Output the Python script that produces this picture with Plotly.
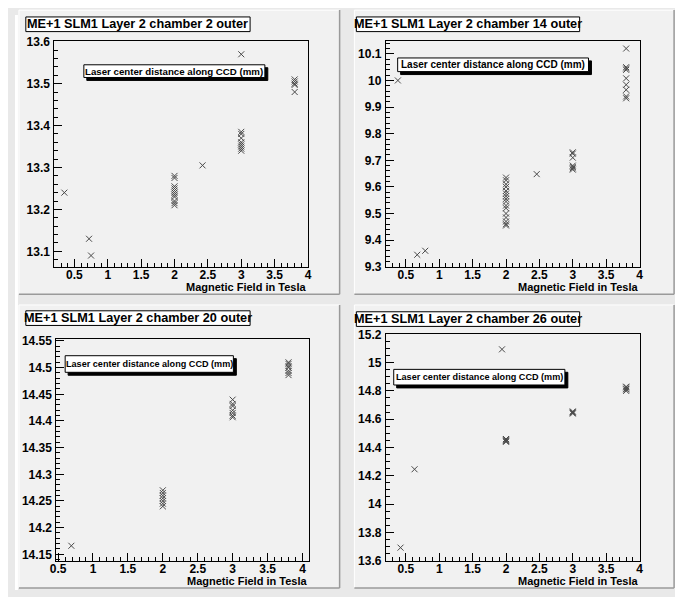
import plotly.graph_objects as go

# ---------------- data ----------------
p1_title = "ME+1 SLM1 Layer 2 chamber 2 outer"
p1_x = [0.35, 0.72, 0.75,
        2, 2, 2, 2, 2, 2, 2, 2, 2, 2, 2,
        2.42,
        3, 3, 3, 3, 3, 3, 3, 3, 3.0,
        3.8, 3.8, 3.8, 3.8, 3.8]
p1_y = [13.24, 13.13, 13.09,
        13.28, 13.275, 13.255, 13.25, 13.245, 13.24, 13.235, 13.23, 13.22, 13.215, 13.21,
        13.305,
        13.385, 13.38, 13.37, 13.36, 13.355, 13.35, 13.345, 13.34, 13.57,
        13.51, 13.505, 13.5, 13.497, 13.48]

p2_title = "ME+1 SLM1 Layer 2 chamber 14 outer"
p2_x = [0.38, 0.67, 0.79,
        2, 2, 2, 2, 2, 2, 2, 2, 2, 2, 2, 2, 2, 2, 2, 2,
        2.46,
        3, 3, 3, 3, 3, 3, 3,
        3.8, 3.8, 3.8, 3.8, 3.8, 3.8, 3.8, 3.8, 3.8]
p2_y = [10.0, 9.345, 9.36,
        9.635, 9.625, 9.61, 9.6, 9.585, 9.575, 9.565, 9.555, 9.545, 9.53, 9.52, 9.5, 9.485, 9.47, 9.46, 9.455,
        9.648,
        9.73, 9.725, 9.71, 9.68, 9.675, 9.67, 9.665,
        10.12, 10.05, 10.045, 10.04, 10.008, 9.984, 9.965, 9.94, 9.933]

p3_title = "ME+1 SLM1 Layer 2 chamber 20 outer"
p3_x = [0.69,
        2, 2, 2, 2, 2, 2, 2,
        3, 3, 3, 3, 3, 3, 3,
        3.8, 3.8, 3.8, 3.8, 3.8, 3.8, 3.8]
p3_y = [14.166,
        14.27, 14.265, 14.26, 14.255, 14.25, 14.245, 14.24,
        14.44, 14.432, 14.428, 14.42, 14.415, 14.41, 14.407,
        14.51, 14.507, 14.503, 14.5, 14.494, 14.49, 14.486]

p4_title = "ME+1 SLM1 Layer 2 chamber 26 outer"
p4_x = [0.42, 0.63, 1.94,
        2, 2, 2, 2, 2,
        3, 3, 3, 3,
        3.8, 3.8, 3.8, 3.8, 3.8]
p4_y = [13.692, 14.246, 15.094,
        14.46, 14.455, 14.45, 14.445, 14.44,
        14.655, 14.65, 14.645, 14.64,
        14.83, 14.825, 14.815, 14.81, 14.8]

legend_text = "Laser center distance along CCD (mm)"
x_title = "Magnetic Field in Tesla"

# ---------------- layout helpers ----------------
# the page body keeps its default 8px margin, so the figure starts at (8, 8)
OFF = 8
W, H = 683 - OFF, 597 - OFF
FONT = "Liberation Sans"


def px(x):
    return (x - OFF) / W


def py(y):
    return 1 - (y - OFF) / H


def bold(s):
    return "<b>" + s + "</b>"


panels = [
    dict(x=p1_x, y=p1_y, title=p1_title,
         frame=(48, 306, 35, 266), xr=[0.2, 4.002], yr=[13.063, 13.6008],
         ydt=0.1, ymin=0.02,
         pad=(12, 338, 3, 294), tbox=(19, 247, 10, 25),
         lbox=(78, 262, 59, 72), lsize=9.7),
    dict(x=p2_x, y=p2_y, title=p2_title,
         frame=(385, 643, 35, 266), xr=[0.2, 4.002], yr=[9.2995, 10.147],
         ydt=0.1, ymin=0.02,
         pad=(353, 678, 3, 294), tbox=(355, 582, 10, 25),
         lbox=(397, 591, 52, 66), lsize=10),
    dict(x=p3_x, y=p3_y, title=p3_title,
         frame=(50, 307, 340, 567), xr=[0.475, 4.095], yr=[14.138, 14.5535],
         ydt=0.05, ymin=0.01,
         pad=(12, 338, 305, 595), tbox=(19, 247, 311, 326),
         lbox=(59, 230, 357, 374), lsize=9.1),
    dict(x=p4_x, y=p4_y, title=p4_title,
         frame=(385, 643, 335, 567), xr=[0.2, 4.002], yr=[13.5995, 15.2008],
         ydt=0.2, ymin=0.05,
         pad=(353, 678, 305, 595), tbox=(355, 582, 312, 327),
         lbox=(393, 567, 371, 387), lsize=9.1),
]

fig = go.Figure()
shapes = []
annotations = []

# white strip at the left edge of the canvas
shapes.append(dict(type="rect", xref="paper", yref="paper", layer="below",
                   x0=0, x1=px(11), y0=0, y1=1, fillcolor="white", line=dict(width=0)))

layout_axes = {}
for i, p in enumerate(panels, start=1):
    xa = "x" if i == 1 else f"x{i}"
    ya = "y" if i == 1 else f"y{i}"
    fig.add_trace(go.Scatter(
        x=p["x"], y=p["y"], mode="markers", xaxis=xa, yaxis=ya,
        marker=dict(symbol="x-thin", size=6, color="#4a4a4a",
                    line=dict(width=1, color="#4a4a4a")),
        showlegend=False, hoverinfo="x+y"))

    fx0, fx1, fy0, fy1 = p["frame"]
    common = dict(showline=True, mirror=True, linecolor="black", linewidth=1,
                  ticks="inside", ticklen=8, tickcolor="black", tickwidth=1,
                  showgrid=False, zeroline=False,
                  tickprefix="<b>", ticksuffix="</b>",
                  tickfont=dict(family=FONT, size=12, color="black", weight=700))
    layout_axes["xaxis" if i == 1 else f"xaxis{i}"] = dict(
        domain=[px(fx0), px(fx1)], anchor=ya, range=p["xr"],
        tick0=0, dtick=0.5, ticklabelstandoff=-3,
        minor=dict(dtick=0.1, tick0=0, ticks="inside", ticklen=4,
                   tickcolor="black", showgrid=False),
        **common)
    layout_axes["yaxis" if i == 1 else f"yaxis{i}"] = dict(
        domain=[py(fy1), py(fy0)], anchor=xa, range=p["yr"],
        tick0=0, dtick=p["ydt"], ticklabelstandoff=1,
        minor=dict(dtick=p["ymin"], tick0=0, ticks="inside", ticklen=4,
                   tickcolor="black", showgrid=False),
        **common)

    # pad with bevel
    x0, x1, y0, y1 = p["pad"]
    shapes.append(dict(type="rect", xref="paper", yref="paper", layer="below",
                       x0=px(x0), x1=px(x1), y0=py(y1), y1=py(y0),
                       fillcolor="#f1f1f1", line=dict(width=0)))
    shapes.append(dict(type="line", xref="paper", yref="paper", layer="below",
                       x0=px(x0), x1=px(x1), y0=py(y0), y1=py(y0),
                       line=dict(color="white", width=1)))
    shapes.append(dict(type="line", xref="paper", yref="paper", layer="below",
                       x0=px(x0), x1=px(x0), y0=py(y0), y1=py(y1),
                       line=dict(color="white", width=1)))
    shapes.append(dict(type="line", xref="paper", yref="paper", layer="below",
                       x0=px(x0), x1=px(x1), y0=py(y1), y1=py(y1),
                       line=dict(color="#9a9a9a", width=1.5)))
    shapes.append(dict(type="line", xref="paper", yref="paper", layer="below",
                       x0=px(x1), x1=px(x1), y0=py(y0), y1=py(y1),
                       line=dict(color="#9a9a9a", width=1.5)))

    # title box
    tx0, tx1, ty0, ty1 = p["tbox"]
    shapes.append(dict(type="rect", xref="paper", yref="paper", layer="above",
                       x0=px(tx0), x1=px(tx1), y0=py(ty1), y1=py(ty0),
                       fillcolor="white", line=dict(color="black", width=1)))
    annotations.append(dict(xref="paper", yref="paper", x=px((tx0 + tx1) / 2),
                            y=py((ty0 + ty1) / 2), text=bold(p["title"]), showarrow=False,
                            xanchor="center", yanchor="middle",
                            font=dict(family=FONT, size=12.7, color="black", weight=700)))

    # legend box with shadow
    lx0, lx1, ly0, ly1 = p["lbox"]
    shapes.append(dict(type="rect", xref="paper", yref="paper", layer="above",
                       x0=px(lx0 + 3), x1=px(lx1 + 3), y0=py(ly1 + 3), y1=py(ly0 + 3),
                       fillcolor="black", line=dict(color="black", width=1)))
    shapes.append(dict(type="rect", xref="paper", yref="paper", layer="above",
                       x0=px(lx0), x1=px(lx1), y0=py(ly1), y1=py(ly0),
                       fillcolor="white", line=dict(color="black", width=1)))
    annotations.append(dict(xref="paper", yref="paper", x=px((lx0 + lx1) / 2),
                            y=py((ly0 + ly1) / 2), text=bold(legend_text), showarrow=False,
                            xanchor="center", yanchor="middle",
                            font=dict(family=FONT, size=p["lsize"], color="black", weight=700)))

    # x-axis title, right aligned under the frame
    annotations.append(dict(xref="paper", yref="paper", x=px(fx1), y=py(fy1 + 21),
                            text=bold(x_title), showarrow=False, xanchor="right", yanchor="middle",
                            font=dict(family=FONT, size=11, color="black", weight=700)))

fig.update_layout(
    width=W, height=H, margin=dict(l=0, r=0, t=0, b=0),
    paper_bgcolor="#e9e9e9", plot_bgcolor="#f1f1f1",
    shapes=shapes, annotations=annotations, showlegend=False,
    **layout_axes)

fig.write_html("out.html")
